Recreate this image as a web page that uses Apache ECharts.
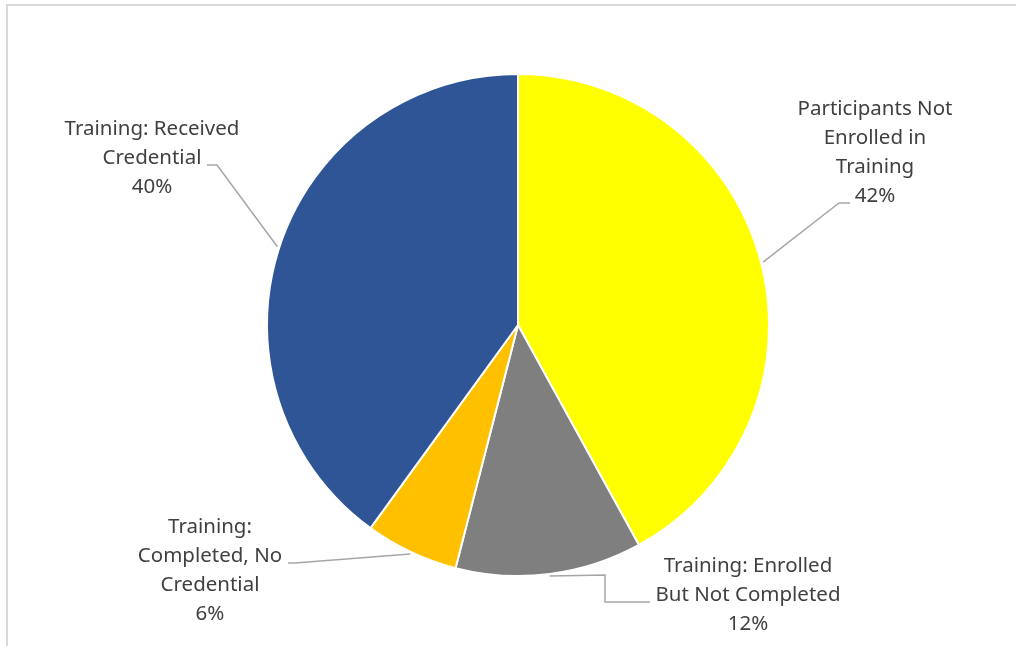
<!DOCTYPE html>
<html>
<head>
<meta charset="utf-8">
<script src="https://cdn.jsdelivr.net/npm/echarts@6/dist/echarts.min.js"></script>
<style>
    html, body { margin: 0; padding: 0; background: #fff; }
    #frame {
        position: absolute; left: 6px; top: 4px; width: 1020px; height: 660px;
        border-top: 2px solid #d9d9d9; border-left: 2px solid #d9d9d9;
    }
    #chart { position: absolute; left: 0; top: 0; width: 1016px; height: 646px; }
</style>
</head>
<body>
<div id="frame"></div>
<div id="chart"></div>
<script>
// categories (label text as shown, with line breaks)
var categories = [
    "Participants Not\nEnrolled in\nTraining",
    "Training: Enrolled\nBut Not Completed",
    "Training:\nCompleted, No\nCredential",
    "Training: Received\nCredential"
];
// share of participants, %
var values = [42, 12, 6, 40];
var colors = ["#FFFF00", "#7F7F7F", "#FFC000", "#2F5597"];

// layout only: label block centres and leader line bends
var pieCenter = [518, 325];
var pieRadius = 251;
var labelPos = [[875, 153], [748, 595], [210, 571], [152, 158]];
var leaderBends = [
    [[839, 203], [850, 203]],
    [[605, 575], [605, 602], [650, 602]],
    [[295, 563], [288, 563]],
    [[217, 165], [207, 165]]
];

// start of each leader line: slice edge at its middle angle
var total = values.reduce(function (a, b) { return a + b; }, 0);
var leaderStart = [];
var acc = 0;
for (var i = 0; i < values.length; i++) {
    var mid = (acc + values[i] / 2) / total * Math.PI * 2;
    acc += values[i];
    leaderStart.push([
        pieCenter[0] + (pieRadius + 2) * Math.sin(mid),
        pieCenter[1] - (pieRadius + 2) * Math.cos(mid)
    ]);
}

var chartMain = document.getElementById("chart");
var myChart = echarts.init(chartMain);

var option = {
    animation: false,
    series: [
        {
            type: "pie",
            center: pieCenter,
            radius: [0, pieRadius],
            startAngle: 90,
            clockwise: true,
            data: categories.map(function (c, i) {
                return { name: c, value: values[i], itemStyle: { color: colors[i] } };
            }),
            itemStyle: {
                borderColor: "#fff",
                borderWidth: 2
            },
            label: {
                show: true,
                position: "outside",
                formatter: "{b}\n{d}%",
                color: "#404040",
                fontFamily: "Noto Sans",
                fontSize: 20.5,
                lineHeight: 29,
                align: "center"
            },
            labelLine: {
                show: true,
                length: 20,
                length2: 10,
                lineStyle: {
                    color: "#A6A6A6",
                    width: 1.5
                }
            },
            labelLayout: function (p) {
                var pos = labelPos[p.dataIndex];
                return {
                    x: pos[0],
                    y: pos[1],
                    align: "center",
                    verticalAlign: "middle",
                    labelLinePoints: [leaderStart[p.dataIndex]].concat(leaderBends[p.dataIndex])
                };
            }
        }
    ]
};

myChart.setOption(option);
</script>
</body>
</html>
